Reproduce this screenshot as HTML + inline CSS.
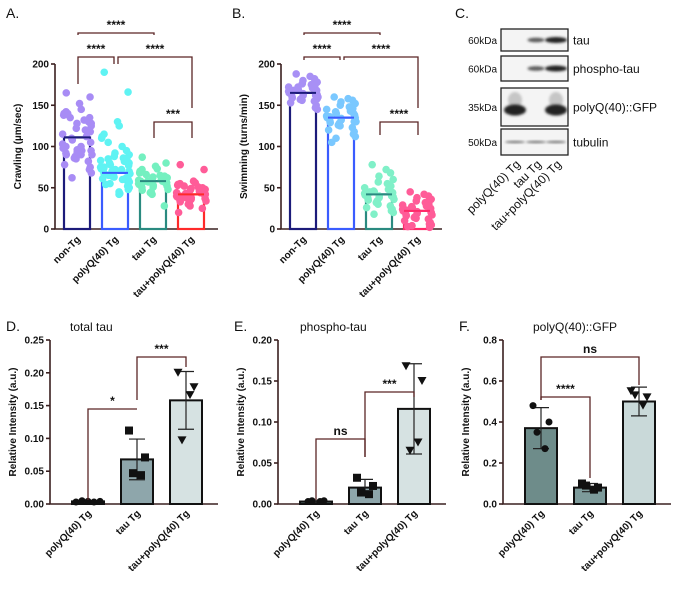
<!DOCTYPE html>
<html><head><meta charset="utf-8"><style>
body{margin:0;background:#fff;}
svg{display:block;font-family:"Liberation Sans",sans-serif;}
.ax{stroke:#3a2020;stroke-width:1.6;fill:none}
.br{stroke:#5a2525;stroke-width:1.3;fill:none}
.tk{font-size:10px;font-weight:bold;fill:#111}
.lb{font-size:10px;font-weight:bold;fill:#111}
.pl{font-size:14px;fill:#111}
.st{font-size:12px;font-weight:bold;fill:#111}
</style></head><body>
<svg id="fig" width="681" height="591" viewBox="0 0 681 591" xmlns="http://www.w3.org/2000/svg">
<defs><filter id="blur" x="-50%" y="-50%" width="200%" height="200%"><feGaussianBlur stdDeviation="1.3"/></filter></defs>
</svg>
<script>
// Panel A data
const catsA=["non-Tg","polyQ(40) Tg","tau Tg","tau+polyQ(40) Tg"];
const meansA=[111,68,58,42];
const dotsA0=[165,160,152,145,142,140,138,135,132,130,128,125,122,120,118,115,112,110,108,105,103,100,98,96,95,93,92,90,90,88,86,85,82,78,75,72,68,62,140,135,128,118,100,95,90];
const dotsA1=[190,166,130,125,115,112,110,105,100,95,92,90,88,86,85,83,82,80,78,77,75,74,73,72,70,70,68,67,66,65,64,63,62,61,60,58,57,55,54,52,50,48,45,43,42,65,70,75,80,85,60,72];
const dotsA2=[87,80,76,73,72,70,68,66,65,64,63,62,61,60,60,59,58,58,57,56,55,55,54,53,52,51,50,48,47,45,44,42,28,58,62,56];
const dotsA3=[78,72,58,56,55,54,53,52,51,50,49,48,47,46,45,44,44,43,42,41,40,40,39,38,37,36,35,34,33,31,30,28,25,20,45,48,42,38];
// Panel B data
const catsB=["non-Tg","polyQ(40) Tg","tau Tg","tau+polyQ(40) Tg"];
const meansB=[165,135,42,22];
const dotsB0=[188,185,182,180,178,176,175,174,172,171,170,169,168,167,166,165,164,163,162,161,160,159,158,157,156,155,153,150,147,145,172,168,162,158];
const dotsB1=[160,158,156,154,152,150,148,146,145,143,142,140,138,137,136,135,134,133,132,131,130,129,128,126,125,123,120,118,115,112,110,105,140,135,130];
const dotsB2=[78,72,68,64,60,57,55,52,50,48,46,45,44,43,42,41,40,39,38,37,36,35,34,32,30,28,26,24,22,20,18,45,40];
const dotsB3=[45,42,40,38,36,34,32,30,29,28,27,26,25,24,23,22,21,20,19,18,17,16,15,14,13,12,10,8,6,5,4,3,2,20,25];
// Panels D/E/F
const catsQ=["polyQ(40) Tg","tau Tg","tau+polyQ(40) Tg"];
const meansD=[0.004,0.068,0.158], sdD=[0.001,0.031,0.044];
const ptsD=[[0.003,0.005,0.004,0.003,0.004],[0.112,0.071,0.044,0.047],[0.200,0.178,0.166,0.097]];
const meansE=[0.003,0.020,0.116], sdE=[0.001,0.010,0.055];
const ptsE=[[0.003,0.004,0.003,0.004],[0.032,0.022,0.012,0.014],[0.168,0.150,0.075,0.065]];
const meansF=[0.37,0.08,0.50], sdF=[0.10,0.02,0.07];
const ptsF=[[0.48,0.40,0.27,0.35],[0.10,0.08,0.07,0.09],[0.55,0.52,0.48,0.53]];
const ticksA=[0,50,100,150,200], ticksD=[0,0.05,0.10,0.15,0.20,0.25], ticksE=[0,0.05,0.10,0.15,0.20], ticksF=[0,0.2,0.4,0.6,0.8];

const S=document.getElementById('fig'), NS="http://www.w3.org/2000/svg";
function el(tag,attrs,txt,name,inter){const e=document.createElementNS(NS,tag);for(const k in attrs)e.setAttribute(k,attrs[k]);if(txt!=null)e.textContent=txt;


S.appendChild(e);return e;}
function axes(x0,yTop,yBot,xEnd,max,ticks,fmt,title,tname){
  const y=v=>yBot-(v/max)*(yBot-yTop);
  el('path',{d:`M${x0} ${yTop} V${yBot} H${xEnd}`,class:'ax'},null,tname+'-axes');
  ticks.forEach(t=>{el('line',{x1:x0-4,x2:x0,y1:y(t),y2:y(t),class:'ax'},null,'y-tick');
    el('text',{x:x0-6,y:y(t)+3.5,'text-anchor':'end',class:'tk'},fmt(t),'y-tick-label');});
  const cy=(yTop+yBot)/2;
  el('text',{x:0,y:0,transform:`translate(${x0-34},${cy}) rotate(-90)`,'text-anchor':'middle',class:'lb'},title,'y-axis-title');
  return y;
}
function xlabels(xs,cats,yBase){cats.forEach((c,i)=>{el('text',{x:0,y:0,transform:`translate(${xs[i]+4},${yBase}) rotate(-45)`,'text-anchor':'end',class:'tk'},c,'x-label');});}
function bracket(x1,x2,yb,y1d,y2d,stars){el('path',{d:`M${x1} ${y1d} V${yb} H${x2} V${y2d}`,class:'br'},null,'significance-bracket');
  el('text',{x:(x1+x2)/2,y:yb-4,'text-anchor':'middle',class:'st'},stars,'significance-label');}
function hash(i){const s=Math.sin(i*12.9898+3.7)*43758.5453;return (s-Math.floor(s))-0.5;}

// ---- Panel A
el('text',{x:6,y:18,class:'pl'},'A.','panel-a-label');
let yA=axes(55,64,229,218,200,ticksA,t=>t,'Crawling (µm/sec)','panel-a');
const xsA=[77,115,153,191];
const strokeA=['#1c1b7a','#3a5cff','#2a8a80','#ff2a2a'], dotA=['#a88cf5','#5ff3f3','#74f0c0','#ff5c98'];
[dotsA0,dotsA1,dotsA2,dotsA3].forEach((arr,g)=>{
  el('rect',{x:xsA[g]-13,y:yA(meansA[g]),width:26,height:229-yA(meansA[g]),fill:'none',stroke:strokeA[g],'stroke-width':2.2},null,'bar-'+catsA[g]);
  arr.forEach((v,i)=>{el('circle',{cx:xsA[g]+hash(i)*30,cy:yA(v),r:3.8,fill:dotA[g]},null,'data-point');});
  el('line',{x1:xsA[g]-13,x2:xsA[g]+13,y1:yA(meansA[g]),y2:yA(meansA[g]),stroke:strokeA[g],'stroke-width':2},null,'mean-line');
});
bracket(78,154,33,35,35,'****');bracket(78,114,57,84,64,'****');bracket(118,192,57,64,108,'****');bracket(154,192,122,138,138,'***');
xlabels(xsA,catsA,240);

// ---- Panel B
el('text',{x:232,y:18,class:'pl'},'B.','panel-b-label');
let yB=axes(281,64,229,442,200,ticksA,t=>t,'Swimming (turns/min)','panel-b');
const xsB=[303,341,379,417];
const strokeB=['#1c1b7a','#3a5cff','#2a8a80','#ff2a6a'], dotB=['#a890f5','#7ac8ff','#80f0c8','#ff5c98'];
[dotsB0,dotsB1,dotsB2,dotsB3].forEach((arr,g)=>{
  el('rect',{x:xsB[g]-13,y:yB(meansB[g]),width:26,height:229-yB(meansB[g]),fill:'none',stroke:strokeB[g],'stroke-width':2.2},null,'bar-'+catsB[g]);
  arr.forEach((v,i)=>{el('circle',{cx:xsB[g]+hash(i+7)*30,cy:yB(v),r:3.8,fill:dotB[g]},null,'data-point');});
  el('line',{x1:xsB[g]-13,x2:xsB[g]+13,y1:yB(meansB[g]),y2:yB(meansB[g]),stroke:strokeB[g],'stroke-width':2},null,'mean-line');
});
bracket(304,380,33,35,35,'****');bracket(304,340,57,60,60,'****');bracket(344,418,57,60,108,'****');bracket(380,418,122,135,135,'****');
xlabels(xsB,catsB,240);

// ---- Panel C (western blot)
el('text',{x:455,y:18,class:'pl'},'C.','panel-c-label');
const rows=[['tau','60kDa',29,51],['phospho-tau','60kDa',56,81],['polyQ(40)::GFP','35kDa',88,126],['tubulin','50kDa',129,155]];
const bandX=[515,536,556];
const intens=[[0,0.5,1],[0,0.5,1],[1,0,1],[0.6,0.6,0.6]];
rows.forEach((r,ri)=>{
  el('rect',{x:501,y:r[2],width:67,height:r[3]-r[2],fill:'#f4f4f4',stroke:'#222','stroke-width':1.3},null,'blot-'+r[0]);
  el('text',{x:573,y:(r[2]+r[3])/2+4.5,'font-size':'12px',fill:'#111'},r[0],'blot-label');
  el('text',{x:497,y:(r[2]+r[3])/2+4,'text-anchor':'end','font-size':'10px',fill:'#111'},r[1],'mw-label');
  bandX.forEach((bx,bi)=>{const v=intens[ri][bi];if(!v)return;
    const cy=(r[2]+r[3])/2+(ri==2?3:0);
    if(ri==2){el('ellipse',{cx:bx,cy:cy-10,rx:7,ry:8,fill:'#999',opacity:0.5,filter:'url(#blur)'},null,'band-smear');}
    const h=ri==2?11:(ri==3?2.5:3+v*3);
    el('ellipse',{cx:bx,cy:cy,rx:ri==2?11:(ri==3?10:6+v*5),ry:h/2,fill:ri==3?'#555':'#222',opacity:0.45+v*0.55,filter:'url(#blur)'},null,'band');});
});
['polyQ(40) Tg','tau Tg','tau+polyQ(40) Tg'].forEach((c,i)=>{el('text',{x:0,y:0,transform:`translate(${bandX[i]+6},${165}) rotate(-45)`,'text-anchor':'end','font-size':'12px',fill:'#111'},c,'lane-label');});

// ---- bar panels D/E/F
function qpanel(L,title,x0,xEnd,max,ticks,fmt,means,sd,pts,fills,mark,tx,lx){
  el('text',{x:lx,y:331,class:'pl'},L,'panel-label');
  el('text',{x:tx,y:331,'font-size':'12px',fill:'#111'},title,'panel-title');
  const y=axes(x0,340,504,xEnd,max,ticks,fmt,'Relative  Intensity (a.u.)','panel-'+L);
  const xs=[x0+38,x0+87,x0+136];
  means.forEach((m,g)=>{
    el('rect',{x:xs[g]-16,y:y(m),width:32,height:504-y(m),fill:fills[g],stroke:'#111','stroke-width':2},null,'bar-'+catsQ[g]);
    el('path',{d:`M${xs[g]-8} ${y(m+sd[g])} H${xs[g]+8} M${xs[g]} ${y(m+sd[g])} V${y(Math.max(0,m-sd[g]))} M${xs[g]-8} ${y(Math.max(0,m-sd[g]))} H${xs[g]+8}`,stroke:'#222','stroke-width':1.2,fill:'none'},null,'error-bar');
    pts[g].forEach((v,i)=>{const cx=xs[g]+(pts[g].length==5?(i-2)*6:[-8,8,4,-4][i]);const cy=y(v);const m2=mark[g];
      if(m2=='c')el('circle',{cx,cy,r:3.5,fill:'#111'},null,'data-point');
      else if(m2=='s')el('rect',{x:cx-4,y:cy-4,width:8,height:8,fill:'#111'},null,'data-point');
      else el('path',{d:`M${cx-4.5} ${cy-4} H${cx+4.5} L${cx} ${cy+4} Z`,fill:'#111'},null,'data-point');});
  });
  xlabels(xs,catsQ,514);
  return {y,xs};
}
let D=qpanel('D.','total tau',50,218,0.25,ticksD,t=>t.toFixed(2),meansD,sdD,ptsD,['#557070','#8ea6ab','#d6e2e2'],['c','s','t'],70,6);
bracket(D.xs[0],D.xs[1],409,500,409,'*');bracket(D.xs[1],D.xs[2],357,400,367,'***');
let E=qpanel('E.','phospho-tau',278,446,0.20,ticksE,t=>t.toFixed(2),meansE,sdE,ptsE,['#557070','#8ea6ab','#d6e2e2'],['c','s','t'],300,234);
bracket(E.xs[0],E.xs[1],439,500,457,'ns');bracket(E.xs[1],E.xs[2],392,457,397,'***');
let F=qpanel('F.','polyQ(40)::GFP',503,671,0.8,ticksF,t=>t.toFixed(1),meansF,sdF,ptsF,['#6e8c8a','#7d9b9b','#c9d9d9'],['c','s','t'],533,459);
bracket(F.xs[0],F.xs[2],357,400,385,'ns');bracket(F.xs[0],F.xs[1],397,400,478,'****');
</script>
</body></html>
